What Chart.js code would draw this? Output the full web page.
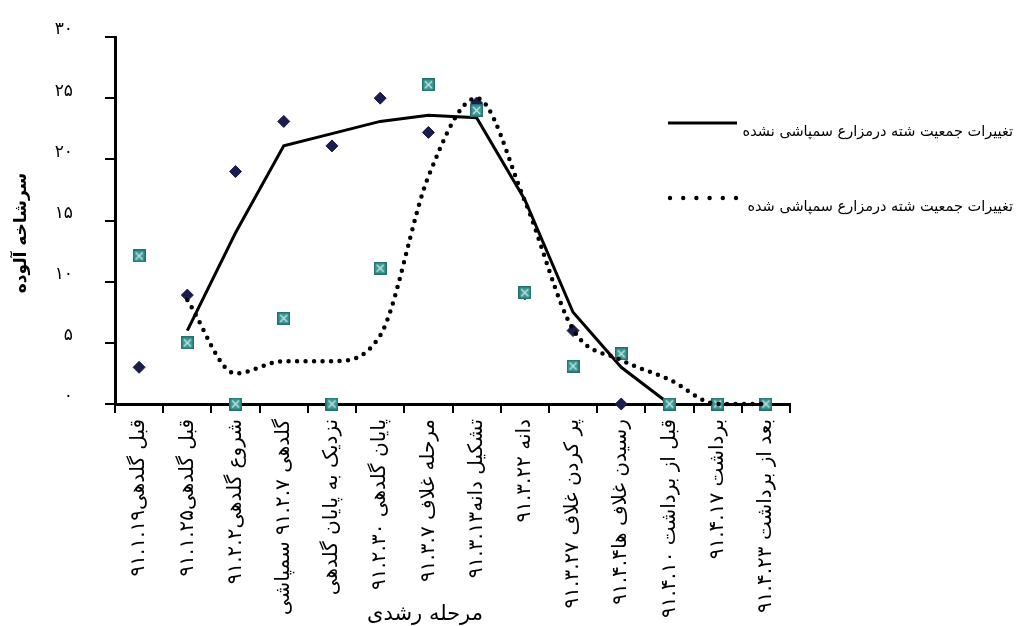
<!DOCTYPE html>
<html>
<head>
<meta charset="utf-8">
<script src="https://cdn.jsdelivr.net/npm/chart.js@4/dist/chart.umd.min.js"></script>
<style>
  html, body { margin: 0; padding: 0; background: #fff; }
</style>
</head>
<body>
<canvas id="aphidChart" width="1019" height="626"></canvas>
<script>
// مراحل رشدی
const stages = [
    'قبل گلدهی۹۱.۱.۱۹',
    'قبل گلدهی۹۱.۱.۲۵',
    'شروع گلدهی۹۱.۲.۲',
    'گلدهی ۹۱.۲.۷ سمپاشی',
    'نزدیک به پایان گلدهی',
    'پایان گلدهی ۹۱.۲.۳۰',
    'مرحله غلاف ۹۱.۳.۷',
    'تشکیل دانه۹۱.۳.۱۳',
    'دانه ۹۱.۳.۲۲',
    'پر کردن غلاف ۹۱.۳.۲۷',
    'رسیدن غلاف ها۹۱.۴.۴',
    'قبل از برداشت ۹۱.۴.۱۰',
    'برداشت ۹۱.۴.۱۷',
    'بعد از برداشت ۹۱.۴.۲۳'
];

const yTickLabels = ['۰', '۵', '۱۰', '۱۵', '۲۰', '۲۵', '۳۰'];

// نقاط اندازه گیری شده
const unsprayedPoints = [3, 8.9, 19, 23.1, 21.1, 25, 22.2, 24.6, 9, 6, 0, 0, null, null];
const sprayedPoints = [12.1, 5, 0, 7, 0, 11.1, 26.1, 24, 9.1, 3.1, 4.1, 0, 0, 0];

// خطوط روند
const unsprayedTrend = [null, 6, 14, 21.1, 22.1, 23.1, 23.6, 23.4, 16.7, 7.5, 3, 0, null, null];
const sprayedTrend = [null, 8.5, 2.5, 3.5, 3.5, 5.6, 18.6, 25, 16.6, 6.1, 3.6, 2, 0, 0];

const legendLabels = [
    'تغییرات جمعیت شته درمزارع سمپاشی نشده',
    'تغییرات جمعیت شته درمزارع سمپاشی شده'
];
const yTitle = 'سرشاخه آلوده';
const xTitle = 'مرحله رشدی';

const FONT = "'DejaVu Sans', sans-serif";

function makeBoxMarker() {
    const c = document.createElement('canvas');
    c.width = 13;
    c.height = 13;
    const g = c.getContext('2d');
    g.fillStyle = '#3e9a97';
    g.fillRect(0, 0, 13, 13);
    g.strokeStyle = '#256f6d';
    g.lineWidth = 1.4;
    g.strokeRect(0.7, 0.7, 11.6, 11.6);
    g.strokeStyle = '#c8e8e4';
    g.lineWidth = 1.3;
    g.beginPath();
    g.moveTo(3, 3); g.lineTo(10, 10);
    g.moveTo(10, 3); g.lineTo(3, 10);
    g.stroke();
    return c;
}

// عنوان محورها و راهنما
const extrasPlugin = {
    id: 'extras',
    afterDraw(chart) {
        const ctx = chart.ctx;
        ctx.save();
        ctx.fillStyle = '#000';

        ctx.font = 'bold 17px ' + FONT;
        ctx.textAlign = 'center';
        ctx.textBaseline = 'middle';
        ctx.save();
        ctx.translate(22, 233);
        ctx.rotate(-Math.PI / 2);
        ctx.fillText(yTitle, 0, 0);
        ctx.restore();

        ctx.font = '21px ' + FONT;
        ctx.fillText(xTitle, 425, 615);

        // legend
        ctx.font = '14.5px ' + FONT;
        ctx.textAlign = 'right';
        ctx.fillText(legendLabels[0], 1013, 132);
        ctx.fillText(legendLabels[1], 1013, 207);

        ctx.strokeStyle = '#000';
        ctx.lineWidth = 3;
        ctx.beginPath();
        ctx.moveTo(668, 123);
        ctx.lineTo(737, 123);
        ctx.stroke();

        for (let i = 0; i < 6; i++) {
            ctx.beginPath();
            ctx.arc(670 + i * 13.2, 198, 2.2, 0, Math.PI * 2);
            ctx.fill();
        }
        ctx.restore();
    }
};

const ctx = document.getElementById('aphidChart').getContext('2d');

new Chart(ctx, {
    type: 'line',
    data: {
        labels: stages,
        datasets: [
            {
                label: legendLabels[1],
                data: sprayedTrend,
                borderColor: '#000',
                borderWidth: 4.5,
                borderDash: [0, 8.5],
                borderCapStyle: 'round',
                cubicInterpolationMode: 'monotone',
                pointRadius: 0,
                fill: false,
                clip: false
            },
            {
                label: 'sprayed',
                data: sprayedPoints,
                showLine: false,
                pointStyle: makeBoxMarker(),
                pointRadius: 6,
                clip: false
            },
            {
                label: 'unsprayed',
                data: unsprayedPoints,
                showLine: false,
                pointStyle: 'rectRot',
                pointRadius: 6,
                pointBackgroundColor: '#1b1b4d',
                pointBorderColor: '#1b1b4d',
                pointBorderWidth: 1,
                clip: false
            },
            {
                label: legendLabels[0],
                data: unsprayedTrend,
                borderColor: '#000',
                borderWidth: 3,
                tension: 0,
                pointRadius: 0,
                fill: false,
                clip: false
            }
        ]
    },
    options: {
        responsive: false,
        animation: false,
        layout: {
            padding: { top: 37, right: 229, bottom: 0, left: 0 }
        },
        plugins: {
            legend: { display: false },
            tooltip: { enabled: false }
        },
        scales: {
            x: {
                offset: true,
                grid: {
                    offset: true,
                    drawOnChartArea: false,
                    color: '#000',
                    lineWidth: 2,
                    tickLength: 9
                },
                border: { color: '#000', width: 3 },
                ticks: {
                    color: '#000',
                    font: { family: FONT, size: 20 },
                    minRotation: 90,
                    maxRotation: 90,
                    autoSkip: false,
                    padding: 6
                },
                afterFit(scale) {
                    scale.height = 222;
                }
            },
            y: {
                min: 0,
                max: 30,
                grid: {
                    drawOnChartArea: false,
                    color: '#000',
                    lineWidth: 2,
                    tickLength: 10
                },
                border: { color: '#000', width: 3 },
                ticks: {
                    stepSize: 5,
                    color: '#000',
                    font: { family: FONT, size: 17 },
                    padding: 32,
                    labelOffset: -7,
                    callback: (v) => yTickLabels[v / 5]
                },
                afterFit(scale) {
                    scale.width = 115;
                    scale.paddingTop = 0;
                    scale.paddingBottom = 0;
                }
            }
        }
    },
    plugins: [extrasPlugin]
});
</script>
</body>
</html>
